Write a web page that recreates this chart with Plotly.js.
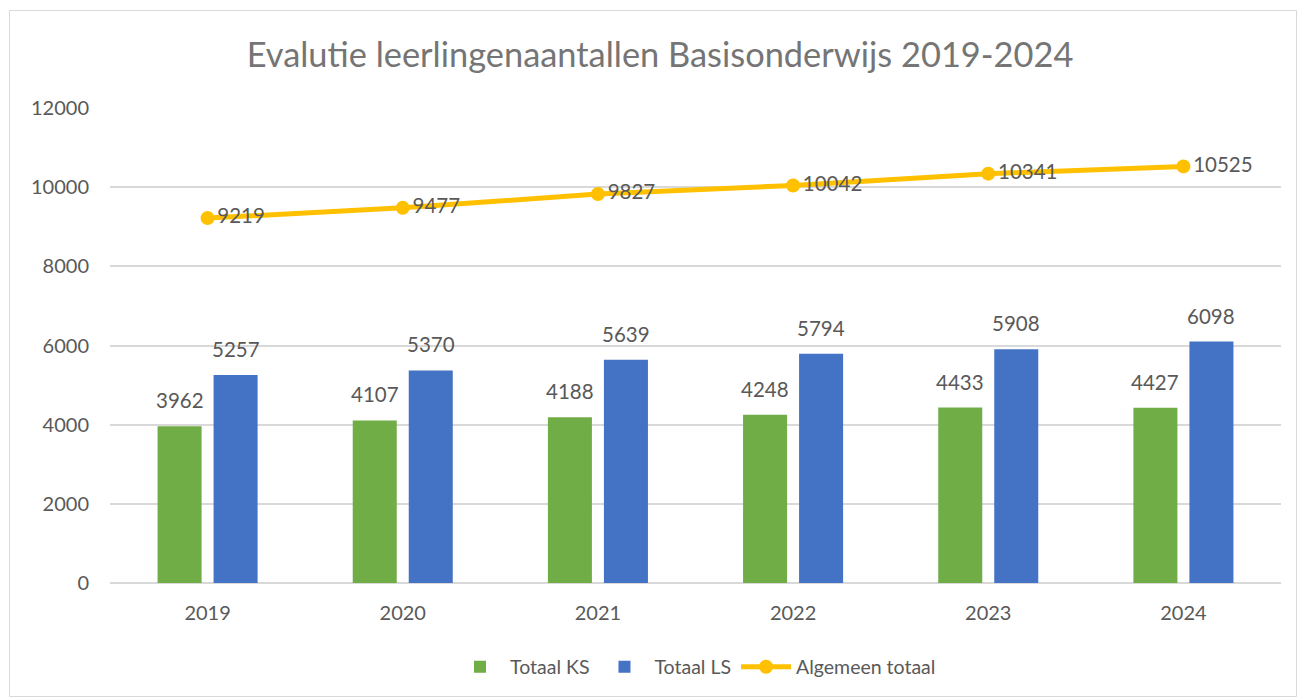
<!DOCTYPE html>
<html>
<head>
<meta charset="utf-8">
<script src="https://cdn.plot.ly/plotly-3.0.1.min.js"></script>
<style>html,body{margin:0;padding:0;background:#fff;}#chart{width:1298px;height:698px;}</style>
</head>
<body>
<div id="chart"></div>
<script>
const years = ['2019', '2020', '2021', '2022', '2023', '2024'];
const totaalKS = [3962, 4107, 4188, 4248, 4433, 4427];
const totaalLS = [5257, 5370, 5639, 5794, 5908, 6098];
const algemeenTotaal = [9219, 9477, 9827, 10042, 10341, 10525];

const FONT = 'Lato, "Open Sans", sans-serif';
const TXT = '#595959';
const BARGAP = 0.426;
const OFF = (1 - BARGAP) / 4;

const traces = [
  {
    type: 'bar', name: 'Totaal KS', x: years, y: totaalKS,
    marker: {color: '#70AD47'}
  },
  {
    type: 'bar', name: 'Totaal LS', x: years, y: totaalLS,
    marker: {color: '#4472C4'}
  },
  {
    type: 'scatter', mode: 'lines+markers+text', name: 'Algemeen totaal', x: years, y: algemeenTotaal,
    line: {color: '#FFC000', width: 5},
    marker: {color: '#FFC000', size: 14},
    text: algemeenTotaal.map(String), textposition: 'middle right', cliponaxis: false,
    textfont: {family: FONT, size: 20.5, color: TXT}
  }
];

const annotations = [];
years.forEach((yr, i) => {
  annotations.push({x: i - OFF, y: totaalKS[i], xref: 'x', yref: 'y', text: String(totaalKS[i]),
    showarrow: false, yanchor: 'bottom', yshift: 12, font: {family: FONT, size: 20.5, color: TXT}});
  annotations.push({x: i + OFF, y: totaalLS[i], xref: 'x', yref: 'y', text: String(totaalLS[i]),
    showarrow: false, yanchor: 'bottom', yshift: 12, font: {family: FONT, size: 20.5, color: TXT}});
});

const layout = {
  width: 1298, height: 698,
  margin: {l: 110, r: 17, t: 108, b: 115},
  paper_bgcolor: '#fff', plot_bgcolor: '#fff',
  font: {family: FONT, color: TXT, size: 18},
  title: {
    text: 'Evalutie leerlingenaantallen Basisonderwijs 2019-2024',
    font: {family: FONT, size: 34.4, color: '#757575'},
    x: 0.5085, xanchor: 'center', y: 0.921, yanchor: 'middle'
  },
  barmode: 'group', bargap: BARGAP, bargroupgap: 0.214,
  xaxis: {
    type: 'category', showgrid: false, zeroline: false,
    showline: false, ticks: '', tickfont: {family: FONT, size: 20, color: TXT},
    ticklabelstandoff: 16
  },
  yaxis: {
    range: [0, 12000], dtick: 2000, tickformat: 'd', showgrid: true, gridcolor: '#D9D9D9', gridwidth: 2,
    zeroline: true, zerolinecolor: '#D9D9D9', zerolinewidth: 2,
    showline: false, ticks: '', tickfont: {family: FONT, size: 20, color: TXT},
    ticklabelstandoff: 20
  },
  annotations: annotations,
  showlegend: true,
  legend: {
    orientation: 'h', x: 0.5, xanchor: 'center', y: -0.177, yanchor: 'middle',
    font: {family: FONT, size: 19.5, color: TXT}, traceorder: 'normal', itemwidth: 50
  },
  shapes: [{
    type: 'rect', xref: 'paper', yref: 'paper',
    x0: (9.5 - 110) / 1171, x1: (1296.5 - 110) / 1171,
    y0: (583 - 696.5) / 475, y1: (583 - 10.5) / 475,
    line: {color: '#D9D9D9', width: 1}, fillcolor: 'rgba(0,0,0,0)', layer: 'below'
  }]
};

Plotly.newPlot('chart', traces, layout, {displayModeBar: false, staticPlot: true});
</script>
</body>
</html>
